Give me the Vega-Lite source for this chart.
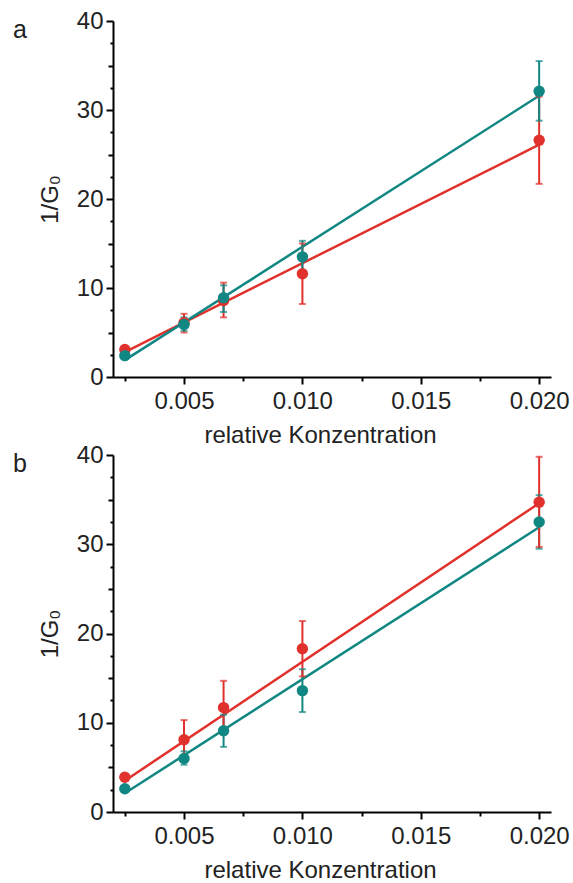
{
  "$schema": "https://vega.github.io/schema/vega-lite/v6.json",
  "background": "white",
  "padding": {"left": 13, "top": 9, "right": 5, "bottom": 5},
  "spacing": 78,
  "bounds": "flush",
  "config": {
    "view": {"stroke": null},
    "font": "Liberation Sans",
    "axis": {
      "grid": false,
      "domainColor": "black",
      "domainWidth": 2,
      "tickColor": "black",
      "tickWidth": 2,
      "labelFont": "Liberation Sans",
      "labelFontSize": 24,
      "labelColor": "#222",
      "titleFont": "Liberation Sans",
      "titleFontSize": 24,
      "titleFontWeight": "normal",
      "titleColor": "#222"
    },
    "title": {"font": "Liberation Sans", "fontSize": 25, "fontWeight": "normal", "color": "#222"}
  },
  "datasets": {
    "pts": [
      {"panel": "a", "series": "rot", "x": 0.0025, "y": 3.1, "lo": 2.8, "hi": 3.4},
      {"panel": "a", "series": "rot", "x": 0.005, "y": 6.1, "lo": 5.0, "hi": 7.1},
      {"panel": "a", "series": "rot", "x": 0.00667, "y": 8.6, "lo": 6.7, "hi": 10.6},
      {"panel": "a", "series": "rot", "x": 0.01, "y": 11.6, "lo": 8.2, "hi": 15.0},
      {"panel": "a", "series": "rot", "x": 0.02, "y": 26.6, "lo": 21.7, "hi": 31.5},
      {"panel": "a", "series": "tuerkis", "x": 0.0025, "y": 2.4, "lo": 2.1, "hi": 2.7},
      {"panel": "a", "series": "tuerkis", "x": 0.005, "y": 5.9, "lo": 5.2, "hi": 6.7},
      {"panel": "a", "series": "tuerkis", "x": 0.00667, "y": 8.9, "lo": 7.3, "hi": 10.3},
      {"panel": "a", "series": "tuerkis", "x": 0.01, "y": 13.5, "lo": 11.7, "hi": 15.3},
      {"panel": "a", "series": "tuerkis", "x": 0.02, "y": 32.1, "lo": 28.8, "hi": 35.5},
      {"panel": "b", "series": "tuerkis", "x": 0.0025, "y": 2.6, "lo": 2.3, "hi": 2.9},
      {"panel": "b", "series": "tuerkis", "x": 0.005, "y": 6.0, "lo": 5.3, "hi": 6.8},
      {"panel": "b", "series": "tuerkis", "x": 0.00667, "y": 9.1, "lo": 7.3, "hi": 10.9},
      {"panel": "b", "series": "tuerkis", "x": 0.01, "y": 13.6, "lo": 11.2, "hi": 16.0},
      {"panel": "b", "series": "tuerkis", "x": 0.02, "y": 32.5, "lo": 29.5, "hi": 35.5},
      {"panel": "b", "series": "rot", "x": 0.0025, "y": 3.9, "lo": 3.6, "hi": 4.2},
      {"panel": "b", "series": "rot", "x": 0.005, "y": 8.1, "lo": 5.9, "hi": 10.3},
      {"panel": "b", "series": "rot", "x": 0.00667, "y": 11.7, "lo": 8.7, "hi": 14.7},
      {"panel": "b", "series": "rot", "x": 0.01, "y": 18.3, "lo": 15.2, "hi": 21.4},
      {"panel": "b", "series": "rot", "x": 0.02, "y": 34.7, "lo": 29.7, "hi": 39.8}
    ],
    "fit": [
      {"panel": "a", "series": "rot", "x": 0.0025, "y": 2.8},
      {"panel": "a", "series": "rot", "x": 0.02, "y": 26.1},
      {"panel": "a", "series": "tuerkis", "x": 0.0025, "y": 1.9},
      {"panel": "a", "series": "tuerkis", "x": 0.02, "y": 31.6},
      {"panel": "b", "series": "tuerkis", "x": 0.0025, "y": 2.1},
      {"panel": "b", "series": "tuerkis", "x": 0.02, "y": 31.9},
      {"panel": "b", "series": "rot", "x": 0.0025, "y": 3.5},
      {"panel": "b", "series": "rot", "x": 0.02, "y": 34.6}
    ]
  },
  "vconcat": [
    {
      "title": {"text": "a", "anchor": "start", "frame": "group", "baseline": "alphabetic", "offset": 0, "dx": -100, "dy": 54},
      "width": 438,
      "height": 356,
      "encoding": {
        "x": {"field": "x", "type": "quantitative", "scale": {"domain": [0.002, 0.0205], "nice": false, "zero": false},
          "axis": {"title": "relative Konzentration", "values": [0.0025, 0.005, 0.0075, 0.01, 0.0125, 0.015, 0.0175, 0.02], "format": ".3f",
            "labelExpr": "round(datum.value*400) % 2 === 0 ? datum.label : ''",
            "tickSize": {"condition": {"test": "round(datum.value*400) % 2 === 0", "value": 7}, "value": 4},
            "labelPadding": 5, "titlePadding": 10, "titleX": 207}},
        "y": {"field": "y", "type": "quantitative", "scale": {"domain": [0, 40], "nice": false},
          "axis": {"title": "1/G₀", "values": [0, 2.5, 5, 7.5, 10, 12.5, 15, 17.5, 20, 22.5, 25, 27.5, 30, 32.5, 35, 37.5, 40],
            "labelExpr": "datum.value % 10 === 0 ? datum.label : ''",
            "tickSize": {"condition": [{"test": "datum.value % 10 === 0", "value": 7}, {"test": "datum.value % 5 === 0", "value": 5}], "value": 3},
            "labelPadding": 3, "titlePadding": 14}},
        "color": {"field": "series", "type": "nominal", "scale": {"domain": ["rot", "tuerkis"], "range": ["#E0312C", "#108782"]}, "legend": null}
      },
      "layer": [
        {"data": {"name": "fit"}, "transform": [{"filter": "datum.panel === 'a'"}], "mark": {"type": "line", "strokeWidth": 2.5}},
        {"data": {"name": "pts"}, "transform": [{"filter": "datum.panel === 'a'"}], "mark": {"type": "rule", "strokeWidth": 2}, "encoding": {"y": {"field": "lo", "type": "quantitative"}, "y2": {"field": "hi"}}},
        {"data": {"name": "pts"}, "transform": [{"filter": "datum.panel === 'a'"}], "mark": {"type": "tick", "orient": "horizontal", "size": 7, "thickness": 2}, "encoding": {"y": {"field": "lo", "type": "quantitative"}}},
        {"data": {"name": "pts"}, "transform": [{"filter": "datum.panel === 'a'"}], "mark": {"type": "tick", "orient": "horizontal", "size": 7, "thickness": 2}, "encoding": {"y": {"field": "hi", "type": "quantitative"}}},
        {"data": {"name": "pts"}, "transform": [{"filter": "datum.panel === 'a'"}], "mark": {"type": "circle", "size": 130, "opacity": 1}}
      ]
    },
    {
      "title": {"text": "b", "anchor": "start", "frame": "group", "baseline": "alphabetic", "offset": 0, "dx": -100, "dy": 54},
      "width": 438,
      "height": 357,
      "encoding": {
        "x": {"field": "x", "type": "quantitative", "scale": {"domain": [0.002, 0.0205], "nice": false, "zero": false},
          "axis": {"title": "relative Konzentration", "values": [0.0025, 0.005, 0.0075, 0.01, 0.0125, 0.015, 0.0175, 0.02], "format": ".3f",
            "labelExpr": "round(datum.value*400) % 2 === 0 ? datum.label : ''",
            "tickSize": {"condition": {"test": "round(datum.value*400) % 2 === 0", "value": 7}, "value": 4},
            "labelPadding": 5, "titlePadding": 10, "titleX": 207}},
        "y": {"field": "y", "type": "quantitative", "scale": {"domain": [0, 40], "nice": false},
          "axis": {"title": "1/G₀", "values": [0, 2.5, 5, 7.5, 10, 12.5, 15, 17.5, 20, 22.5, 25, 27.5, 30, 32.5, 35, 37.5, 40],
            "labelExpr": "datum.value % 10 === 0 ? datum.label : ''",
            "tickSize": {"condition": [{"test": "datum.value % 10 === 0", "value": 7}, {"test": "datum.value % 5 === 0", "value": 5}], "value": 3},
            "labelPadding": 3, "titlePadding": 14}},
        "color": {"field": "series", "type": "nominal", "scale": {"domain": ["rot", "tuerkis"], "range": ["#E0312C", "#108782"]}, "legend": null}
      },
      "layer": [
        {"data": {"name": "fit"}, "transform": [{"filter": "datum.panel === 'b'"}], "mark": {"type": "line", "strokeWidth": 2.5}},
        {"data": {"name": "pts"}, "transform": [{"filter": "datum.panel === 'b'"}], "mark": {"type": "rule", "strokeWidth": 2}, "encoding": {"y": {"field": "lo", "type": "quantitative"}, "y2": {"field": "hi"}}},
        {"data": {"name": "pts"}, "transform": [{"filter": "datum.panel === 'b'"}], "mark": {"type": "tick", "orient": "horizontal", "size": 7, "thickness": 2}, "encoding": {"y": {"field": "lo", "type": "quantitative"}}},
        {"data": {"name": "pts"}, "transform": [{"filter": "datum.panel === 'b'"}], "mark": {"type": "tick", "orient": "horizontal", "size": 7, "thickness": 2}, "encoding": {"y": {"field": "hi", "type": "quantitative"}}},
        {"data": {"name": "pts"}, "transform": [{"filter": "datum.panel === 'b'"}], "mark": {"type": "circle", "size": 130, "opacity": 1}}
      ]
    }
  ]
}
